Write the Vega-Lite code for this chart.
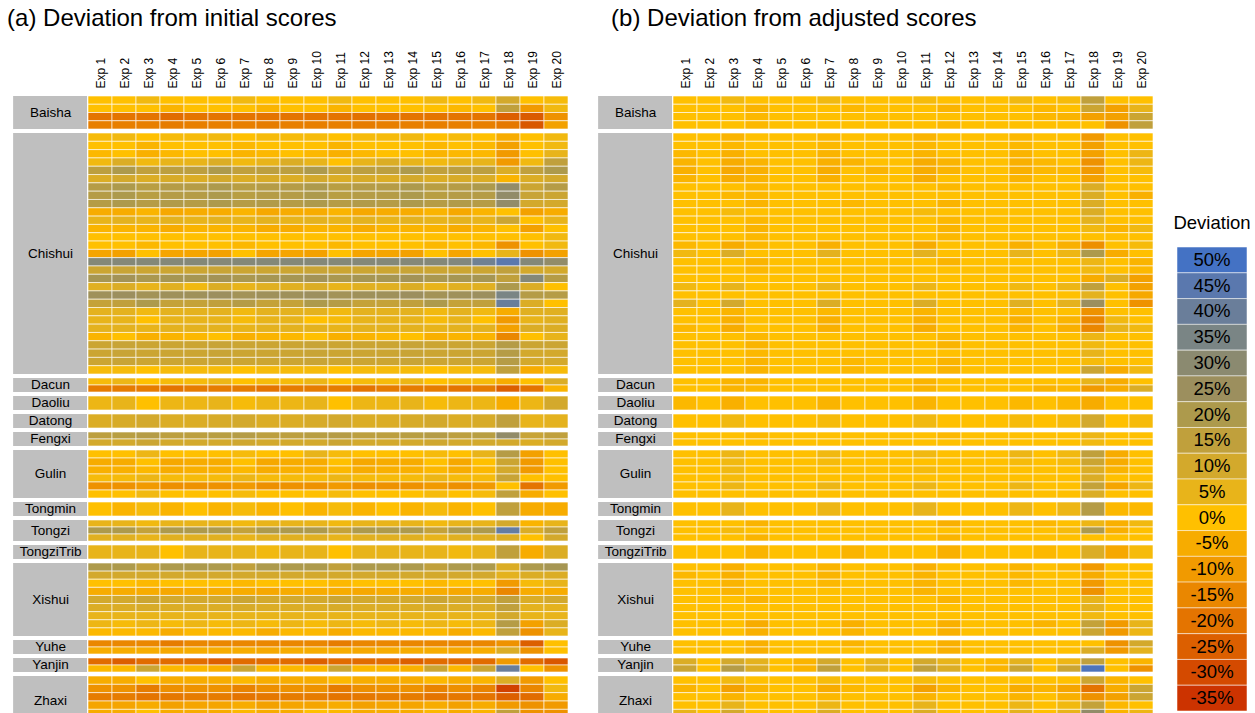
{
"$schema":"https://vega.github.io/schema/vega-lite/v6.json",
"background":"#FFFFFF",
"padding":{"left":7,"top":6,"right":0,"bottom":0},
"config":{"view":{"stroke":null},"font":"Liberation Sans","title":{"fontWeight":"normal","color":"#000000"}},
"data":{"values":[
{"p":"a","g":"Baisha","r":1,"v":[0,0,3,0,0,0,3,0,0,0,3,0,0,0,3,0,3,10,0,2]},
{"p":"a","g":"Baisha","r":2,"v":[0,0,0,-3,0,0,0,-3,0,0,-3,0,0,0,0,-2,0,15,-10,3]},
{"p":"a","g":"Baisha","r":3,"v":[-20,-20,-20,-22,-20,-20,-20,-20,-20,-20,-20,-21,-20,-20,-20,-20,-20,-25,-26,-12]},
{"p":"a","g":"Baisha","r":4,"v":[-17,-17,-17,-18,-17,-17,-17,-18,-17,-17,-17,-18,-17,-17,-17,-17,-17,-19,-27,-8]},
{"p":"a","g":"Chishui","r":1,"v":[2,3,0,2,2,3,0,2,2,2,0,2,2,3,0,2,0,-5,0,3]},
{"p":"a","g":"Chishui","r":2,"v":[0,0,-3,0,0,0,-2,0,0,0,-3,0,0,0,-2,0,-2,-8,0,3]},
{"p":"a","g":"Chishui","r":3,"v":[-2,0,-4,-2,0,0,-3,-2,0,-2,-4,-2,0,0,-3,-2,-2,-10,0,5]},
{"p":"a","g":"Chishui","r":4,"v":[3,8,3,5,5,8,3,5,8,5,0,5,8,5,3,5,5,-10,3,15]},
{"p":"a","g":"Chishui","r":5,"v":[16,20,15,16,16,20,15,16,16,20,14,16,16,20,15,16,16,8,15,20]},
{"p":"a","g":"Chishui","r":6,"v":[8,10,8,9,8,10,8,9,8,10,8,9,8,10,8,9,8,-3,8,10]},
{"p":"a","g":"Chishui","r":7,"v":[18,20,17,18,18,20,17,18,18,20,17,18,18,20,17,18,20,28,12,18]},
{"p":"a","g":"Chishui","r":8,"v":[18,20,17,18,18,20,17,18,18,20,17,18,18,20,17,18,18,28,13,12]},
{"p":"a","g":"Chishui","r":9,"v":[18,20,18,19,18,20,18,19,18,20,18,19,18,20,18,19,18,28,10,10]},
{"p":"a","g":"Chishui","r":10,"v":[-5,-5,-3,-6,-5,-5,-3,-6,-5,-5,-3,-6,-5,-5,-3,-6,-3,0,-8,-5]},
{"p":"a","g":"Chishui","r":11,"v":[5,6,5,6,5,6,5,6,5,6,5,6,5,6,5,6,5,12,0,5]},
{"p":"a","g":"Chishui","r":12,"v":[-3,-3,-3,-5,-3,-3,-3,-5,-5,-3,-3,-5,-3,-3,-3,-5,-3,0,-8,0]},
{"p":"a","g":"Chishui","r":13,"v":[0,0,0,0,0,0,0,0,0,0,0,0,0,0,0,0,0,0,0,3]},
{"p":"a","g":"Chishui","r":14,"v":[0,0,-2,0,0,0,-2,0,0,0,-2,0,0,0,-2,0,-2,-12,0,3]},
{"p":"a","g":"Chishui","r":15,"v":[-7,-8,0,-7,-7,-8,0,-7,-7,-8,0,-7,-7,-8,0,-7,0,5,-12,-8]},
{"p":"a","g":"Chishui","r":16,"v":[32,32,32,32,32,32,32,32,32,32,32,32,32,32,32,33,38,45,32,28]},
{"p":"a","g":"Chishui","r":17,"v":[12,13,12,12,12,13,12,12,12,13,12,12,12,13,12,12,12,15,10,10]},
{"p":"a","g":"Chishui","r":18,"v":[22,23,21,22,22,23,21,22,22,23,21,22,22,23,21,22,22,15,32,18]},
{"p":"a","g":"Chishui","r":19,"v":[7,8,5,7,3,8,5,7,7,8,5,7,7,8,5,7,7,20,8,0]},
{"p":"a","g":"Chishui","r":20,"v":[24,25,23,24,24,25,23,24,24,25,23,24,24,25,23,24,25,35,18,18]},
{"p":"a","g":"Chishui","r":21,"v":[14,15,20,14,14,15,18,14,14,20,18,14,14,15,20,14,15,40,8,0]},
{"p":"a","g":"Chishui","r":22,"v":[6,6,3,6,6,6,3,6,6,6,3,6,6,6,3,6,3,-5,7,7]},
{"p":"a","g":"Chishui","r":23,"v":[5,5,0,5,5,5,2,5,5,0,2,5,5,5,2,5,0,-10,5,7]},
{"p":"a","g":"Chishui","r":24,"v":[6,6,5,6,6,6,5,6,6,6,5,6,6,6,5,6,6,-8,8,8]},
{"p":"a","g":"Chishui","r":25,"v":[-3,0,-4,-3,-2,0,-4,-3,-2,0,-4,-3,-2,0,-4,-3,-3,-15,0,5]},
{"p":"a","g":"Chishui","r":26,"v":[12,13,12,12,12,13,12,12,12,13,12,12,12,13,12,12,12,18,12,12]},
{"p":"a","g":"Chishui","r":27,"v":[12,13,12,12,12,13,12,12,12,13,12,12,12,13,12,12,12,18,10,10]},
{"p":"a","g":"Chishui","r":28,"v":[12,13,12,12,12,13,12,12,12,13,12,12,12,13,12,12,12,18,10,10]},
{"p":"a","g":"Chishui","r":29,"v":[2,2,0,2,2,2,0,2,2,2,0,2,2,2,0,2,2,15,-5,2]},
{"p":"a","g":"Dacun","r":1,"v":[2,4,0,2,2,4,0,2,2,4,0,2,2,4,0,2,2,-5,0,8]},
{"p":"a","g":"Dacun","r":2,"v":[-18,-18,-18,-20,-18,-18,-18,-20,-18,-18,-18,-20,-18,-18,-18,-20,-18,-25,-20,-3]},
{"p":"a","g":"Daoliu","r":1,"v":[4,5,0,4,4,5,2,4,4,5,0,4,4,5,2,4,4,-5,4,10]},
{"p":"a","g":"Datong","r":1,"v":[8,9,10,8,8,9,10,8,8,9,10,8,8,9,10,8,9,15,5,6]},
{"p":"a","g":"Fengxi","r":1,"v":[16,17,18,16,16,17,18,16,16,17,18,16,16,17,18,16,17,28,13,15]},
{"p":"a","g":"Fengxi","r":2,"v":[10,10,12,10,10,10,11,10,10,10,12,10,10,10,11,10,10,10,8,10]},
{"p":"a","g":"Gulin","r":1,"v":[0,0,4,0,0,0,2,0,0,5,2,0,0,0,2,0,5,18,-8,0]},
{"p":"a","g":"Gulin","r":2,"v":[-5,-5,0,-6,-5,-5,0,-6,-5,-5,0,-6,-5,-5,0,-6,0,12,-10,0]},
{"p":"a","g":"Gulin","r":3,"v":[-4,-4,-2,-5,-4,-4,-2,-5,-4,-4,-2,-5,-4,-4,-2,-5,-2,10,-10,0]},
{"p":"a","g":"Gulin","r":4,"v":[2,2,4,2,2,2,4,2,2,2,4,2,2,2,4,2,2,13,0,0]},
{"p":"a","g":"Gulin","r":5,"v":[-12,-12,-10,-13,-12,-12,-10,-13,-12,-12,-10,-13,-12,-12,-10,-13,-10,0,-20,-10]},
{"p":"a","g":"Gulin","r":6,"v":[0,0,3,0,0,0,2,0,0,0,2,0,0,0,2,0,2,15,-5,0]},
{"p":"a","g":"Tongmin","r":1,"v":[0,-3,2,-3,0,-3,2,-3,0,-3,2,-3,0,-3,2,-3,0,15,-5,-5]},
{"p":"a","g":"Tongzi","r":1,"v":[5,5,3,5,5,5,3,5,5,5,3,5,5,5,3,5,5,10,-3,5]},
{"p":"a","g":"Tongzi","r":2,"v":[20,20,14,20,20,20,14,20,20,20,14,20,20,20,14,20,20,42,8,15]},
{"p":"a","g":"Tongzi","r":3,"v":[7,7,5,7,7,7,5,7,7,7,5,7,7,7,5,7,7,8,0,10]},
{"p":"a","g":"TongziTrib","r":1,"v":[5,5,5,0,5,5,5,3,5,5,0,5,5,5,5,3,5,15,-5,8]},
{"p":"a","g":"Xishui","r":1,"v":[20,20,15,20,20,20,15,20,20,20,15,20,20,20,15,20,20,8,20,22]},
{"p":"a","g":"Xishui","r":2,"v":[10,10,10,10,10,10,10,10,10,10,10,10,10,10,10,10,10,6,8,8]},
{"p":"a","g":"Xishui","r":3,"v":[0,0,-2,0,0,0,-2,0,0,0,-2,0,0,0,-2,0,0,-10,2,5]},
{"p":"a","g":"Xishui","r":4,"v":[-5,-5,-5,-6,-5,-5,-5,-6,-5,-5,-5,-6,-5,-5,-5,-6,-5,-15,-5,-5]},
{"p":"a","g":"Xishui","r":5,"v":[10,10,12,10,10,10,12,10,10,10,12,10,10,10,12,10,10,15,8,10]},
{"p":"a","g":"Xishui","r":6,"v":[8,8,9,8,8,8,9,8,8,8,9,8,8,8,9,8,8,15,6,6]},
{"p":"a","g":"Xishui","r":7,"v":[5,5,5,5,5,5,5,5,5,5,5,5,5,5,5,5,5,10,5,5]},
{"p":"a","g":"Xishui","r":8,"v":[4,2,4,2,4,2,4,2,4,2,4,2,4,2,4,2,4,18,-8,8]},
{"p":"a","g":"Xishui","r":9,"v":[-2,-2,-2,-5,-2,-2,-2,-5,-2,-2,-5,-2,-2,-2,-2,-5,-2,15,-12,5]},
{"p":"a","g":"Yuhe","r":1,"v":[-15,-15,-15,-18,-15,-15,-15,-15,-15,-15,-18,-15,-15,-15,-15,-15,-15,-12,-25,0]},
{"p":"a","g":"Yuhe","r":2,"v":[-5,-5,-5,-6,-5,-5,-5,-6,-5,-5,-5,-6,-5,-5,-5,-6,-5,8,-12,0]},
{"p":"a","g":"Yanjin","r":1,"v":[-22,-25,-22,-22,-22,-25,-22,-22,-22,-25,-22,-22,-22,-25,-22,-22,-22,-10,-22,-27]},
{"p":"a","g":"Yanjin","r":2,"v":[-2,-2,12,-2,-2,-4,12,-2,-2,-2,12,-2,-2,-4,12,-2,12,40,0,-12]},
{"p":"a","g":"Zhaxi","r":1,"v":[-5,-5,0,-5,-5,-5,-2,-5,-5,-5,-2,-5,-5,-5,-2,-5,-3,8,-10,0]},
{"p":"a","g":"Zhaxi","r":2,"v":[-12,-12,-18,-13,-12,-12,-16,-13,-12,-12,-18,-13,-12,-12,-16,-13,-16,-32,-15,3]},
{"p":"a","g":"Zhaxi","r":3,"v":[-18,-18,-20,-19,-18,-18,-20,-19,-18,-18,-20,-19,-18,-18,-20,-19,-20,-25,-22,-5]},
{"p":"a","g":"Zhaxi","r":4,"v":[-7,-7,-5,-8,-7,-7,-5,-8,-7,-7,-5,-8,-7,-7,-5,-8,-5,-10,-12,-10]},
{"p":"a","g":"Zhaxi","r":5,"v":[-5,-5,0,-5,-5,-5,-2,-5,-5,0,-2,-5,-5,-5,-2,-5,-3,15,-12,-12]},
{"p":"a","g":"Zhaxi","r":6,"v":[-18,-18,-20,-19,-18,-18,-20,-19,-18,-18,-20,-19,-18,-18,-20,-19,-20,-28,-20,0]},
{"p":"b","g":"Baisha","r":1,"v":[0,0,3,0,0,0,3,0,0,0,2,0,0,0,3,0,2,15,0,0]},
{"p":"b","g":"Baisha","r":2,"v":[0,0,0,-3,0,0,0,-2,0,0,0,-3,0,0,0,-2,0,12,-8,5]},
{"p":"b","g":"Baisha","r":3,"v":[0,0,0,-2,0,0,0,0,0,0,0,0,0,0,0,-2,-3,-8,-8,12]},
{"p":"b","g":"Baisha","r":4,"v":[0,0,0,-2,0,0,0,0,0,0,0,-2,0,0,0,0,0,0,-12,15]},
{"p":"b","g":"Chishui","r":1,"v":[0,0,-3,0,0,0,-2,0,0,0,-3,0,0,0,-2,0,0,-10,0,0]},
{"p":"b","g":"Chishui","r":2,"v":[0,0,-2,0,0,0,-2,0,0,0,-2,0,0,0,-2,0,0,-8,0,0]},
{"p":"b","g":"Chishui","r":3,"v":[-2,0,-4,0,0,0,-3,0,0,0,-3,0,0,0,-3,0,0,-8,0,4]},
{"p":"b","g":"Chishui","r":4,"v":[-3,0,-5,-3,0,0,-4,-3,0,0,-5,-3,0,0,-4,-2,0,-12,0,4]},
{"p":"b","g":"Chishui","r":5,"v":[-4,0,-6,-4,0,0,-5,0,-3,0,-5,-3,0,0,-4,-2,-2,-10,0,2]},
{"p":"b","g":"Chishui","r":6,"v":[-3,0,-5,-3,0,0,-4,0,0,0,-5,0,0,0,-3,0,0,-8,0,0]},
{"p":"b","g":"Chishui","r":7,"v":[0,0,0,-2,0,0,0,0,0,0,0,-2,0,0,0,0,0,8,0,0]},
{"p":"b","g":"Chishui","r":8,"v":[0,0,-2,-2,0,0,0,0,0,0,0,0,0,0,0,0,0,8,0,-4]},
{"p":"b","g":"Chishui","r":9,"v":[0,0,0,-3,0,0,0,-2,0,0,0,-3,0,0,0,0,0,8,0,0]},
{"p":"b","g":"Chishui","r":10,"v":[0,0,2,0,0,0,0,0,0,0,2,0,0,0,0,0,0,8,0,0]},
{"p":"b","g":"Chishui","r":11,"v":[0,0,0,-2,0,0,0,0,0,0,0,-2,0,0,0,0,0,6,0,0]},
{"p":"b","g":"Chishui","r":12,"v":[0,0,0,-3,0,0,0,0,0,0,0,-3,0,0,0,0,0,3,-3,3]},
{"p":"b","g":"Chishui","r":13,"v":[0,0,0,-2,0,0,0,0,0,0,0,-2,0,0,0,0,0,0,0,0]},
{"p":"b","g":"Chishui","r":14,"v":[-2,0,-5,-2,0,0,-4,0,0,0,-5,0,0,0,-4,0,-4,-13,0,2]},
{"p":"b","g":"Chishui","r":15,"v":[3,0,8,0,0,0,6,0,0,0,6,0,0,0,5,0,4,20,-5,0]},
{"p":"b","g":"Chishui","r":16,"v":[0,0,0,-3,0,0,0,0,0,0,0,-3,0,0,0,0,0,4,0,-3]},
{"p":"b","g":"Chishui","r":17,"v":[0,0,0,-2,0,0,0,0,0,0,0,0,0,0,0,0,0,3,0,-2]},
{"p":"b","g":"Chishui","r":18,"v":[0,0,0,0,0,0,0,0,0,0,0,0,0,0,0,0,0,-5,8,-8]},
{"p":"b","g":"Chishui","r":19,"v":[3,0,5,0,0,0,4,0,0,0,4,0,0,0,3,0,4,15,0,-8]},
{"p":"b","g":"Chishui","r":20,"v":[0,0,0,0,0,0,0,0,0,0,0,0,0,0,0,0,0,6,0,-6]},
{"p":"b","g":"Chishui","r":21,"v":[6,0,10,0,0,0,8,0,0,0,8,0,0,0,7,0,6,25,0,-12]},
{"p":"b","g":"Chishui","r":22,"v":[0,0,-3,0,0,0,-2,0,0,0,-3,0,0,0,-2,0,0,-12,0,0]},
{"p":"b","g":"Chishui","r":23,"v":[0,0,-4,0,0,0,-4,0,0,0,-4,0,0,0,-4,0,-3,-15,3,0]},
{"p":"b","g":"Chishui","r":24,"v":[-2,0,-5,0,0,0,-4,0,0,0,-5,0,0,0,-3,0,-4,-15,5,3]},
{"p":"b","g":"Chishui","r":25,"v":[0,0,0,-2,0,0,0,0,0,0,0,-2,0,0,0,0,0,4,0,0]},
{"p":"b","g":"Chishui","r":26,"v":[0,0,0,-3,0,0,0,0,0,0,0,-3,0,0,0,0,0,3,0,0]},
{"p":"b","g":"Chishui","r":27,"v":[0,0,0,-2,0,0,0,0,0,0,0,0,0,0,0,0,0,5,0,0]},
{"p":"b","g":"Chishui","r":28,"v":[0,0,0,-3,0,0,0,-2,0,0,0,-3,0,0,0,0,0,2,0,0]},
{"p":"b","g":"Chishui","r":29,"v":[0,0,0,-3,0,0,0,-2,0,0,0,-3,0,0,0,0,0,12,-5,3]},
{"p":"b","g":"Dacun","r":1,"v":[0,0,-3,-3,0,0,0,0,0,0,-3,0,0,0,0,0,0,5,-5,0]},
{"p":"b","g":"Dacun","r":2,"v":[0,0,-3,-2,0,0,0,0,0,0,-3,0,0,0,0,-3,-2,-10,-5,8]},
{"p":"b","g":"Daoliu","r":1,"v":[-2,0,-4,0,0,0,-3,0,0,0,-3,0,0,0,-2,0,-2,-5,0,0]},
{"p":"b","g":"Datong","r":1,"v":[0,0,3,0,0,0,2,0,0,0,3,0,0,0,2,0,2,10,0,2]},
{"p":"b","g":"Fengxi","r":1,"v":[0,0,0,-2,0,0,0,0,0,0,0,-2,0,0,0,0,0,4,0,0]},
{"p":"b","g":"Fengxi","r":2,"v":[0,0,0,0,0,0,0,0,0,0,0,0,0,0,0,0,0,3,0,0]},
{"p":"b","g":"Gulin","r":1,"v":[0,0,4,0,0,0,3,0,0,0,3,0,0,0,4,0,3,15,-5,0]},
{"p":"b","g":"Gulin","r":2,"v":[0,0,3,0,0,0,2,0,0,0,0,0,0,0,2,0,2,12,-5,0]},
{"p":"b","g":"Gulin","r":3,"v":[0,0,3,0,0,0,0,0,0,0,2,0,0,0,0,0,0,8,-3,0]},
{"p":"b","g":"Gulin","r":4,"v":[0,0,2,0,0,0,0,0,0,0,0,0,0,0,0,0,0,8,0,0]},
{"p":"b","g":"Gulin","r":5,"v":[0,0,4,0,0,0,4,0,0,0,4,0,0,0,4,0,0,14,-7,4]},
{"p":"b","g":"Gulin","r":6,"v":[0,0,0,0,0,0,0,0,0,0,0,0,0,0,0,0,0,8,0,0]},
{"p":"b","g":"Tongmin","r":1,"v":[0,0,5,0,0,0,4,0,0,0,5,0,0,0,4,0,4,18,-2,-2]},
{"p":"b","g":"Tongzi","r":1,"v":[0,0,0,-3,0,0,0,0,0,0,0,-4,0,0,0,-2,0,4,-4,3]},
{"p":"b","g":"Tongzi","r":2,"v":[0,0,2,0,0,0,0,0,0,0,0,0,0,0,0,0,2,20,-4,0]},
{"p":"b","g":"Tongzi","r":3,"v":[0,0,0,-3,0,0,0,0,0,0,0,-3,0,0,0,0,0,0,0,0]},
{"p":"b","g":"TongziTrib","r":1,"v":[0,0,0,-3,0,0,0,-3,0,0,0,-4,0,0,0,-2,0,8,-6,2]},
{"p":"b","g":"Xishui","r":1,"v":[0,0,-4,0,0,0,-3,0,0,0,-4,0,0,0,-3,0,-2,-10,0,0]},
{"p":"b","g":"Xishui","r":2,"v":[-2,0,-4,0,0,0,-3,0,0,0,-3,0,0,0,-2,0,0,-5,0,0]},
{"p":"b","g":"Xishui","r":3,"v":[0,0,-3,0,0,0,-2,0,0,0,-3,0,0,0,-2,0,0,-10,0,0]},
{"p":"b","g":"Xishui","r":4,"v":[0,0,-3,0,0,0,0,0,0,0,-3,0,0,0,0,0,0,-12,0,0]},
{"p":"b","g":"Xishui","r":5,"v":[0,0,0,-3,0,0,0,0,0,0,0,-3,0,0,0,0,0,5,0,0]},
{"p":"b","g":"Xishui","r":6,"v":[0,0,0,0,0,0,0,0,0,0,0,0,0,0,0,0,0,6,0,0]},
{"p":"b","g":"Xishui","r":7,"v":[0,0,0,0,0,0,0,0,0,0,0,0,0,0,0,0,0,3,0,0]},
{"p":"b","g":"Xishui","r":8,"v":[0,0,0,-5,0,0,0,-4,0,0,0,-4,0,0,0,-3,0,14,-10,5]},
{"p":"b","g":"Xishui","r":9,"v":[0,0,0,-4,0,0,0,-3,0,0,0,-4,0,0,0,0,0,12,-10,4]},
{"p":"b","g":"Yuhe","r":1,"v":[0,0,0,-4,0,0,0,-3,0,0,0,-4,0,0,0,0,0,0,-12,10]},
{"p":"b","g":"Yuhe","r":2,"v":[0,0,0,-4,0,0,0,0,0,0,0,-4,0,0,0,0,0,8,-10,6]},
{"p":"b","g":"Yanjin","r":1,"v":[8,0,10,6,0,-3,10,0,5,0,10,5,0,-2,6,0,4,15,0,-3]},
{"p":"b","g":"Yanjin","r":2,"v":[12,0,18,8,0,-3,15,0,6,0,15,8,0,-3,12,0,12,48,0,-12]},
{"p":"b","g":"Zhaxi","r":1,"v":[0,0,3,0,0,0,2,0,0,0,2,0,0,0,0,0,0,12,-3,0]},
{"p":"b","g":"Zhaxi","r":2,"v":[-3,0,-8,-3,0,0,-5,-2,0,0,-8,-3,0,0,-5,-3,-7,-20,-5,12]},
{"p":"b","g":"Zhaxi","r":3,"v":[0,0,-3,0,0,0,-2,0,0,0,-3,0,0,0,-3,0,-4,-12,-8,12]},
{"p":"b","g":"Zhaxi","r":4,"v":[0,0,5,0,0,0,4,0,0,0,5,0,0,0,4,0,3,14,-2,0]},
{"p":"b","g":"Zhaxi","r":5,"v":[5,0,10,0,0,0,8,0,0,0,8,0,0,0,6,0,5,28,-3,4]},
{"p":"b","g":"Zhaxi","r":6,"v":[0,0,-4,0,0,0,-3,0,0,0,-4,0,0,0,-3,0,-3,-15,0,12]}
]},
"transform":[
{"flatten":["v"]},
{"window":[{"op":"row_number","as":"e"}],"groupby":["p","g","r"]},
{"calculate":"datum.e - 1","as":"e0"}
],
"spacing":29,
"hconcat":[
{"title":{"text":"(a) Deviation from initial scores","anchor":"start","fontSize":24,"fontWeight":"normal","color":"#000000","dx":-6,"offset":20},
"transform":[{"filter":"datum.p == 'a'"}],
"spacing":2,
"vconcat":[
{"width":480,"height":33,"layer":[
{"data":{"values":[{}]},"mark":{"type":"rect","fill":"#BFBFBF"},"encoding":{"x":{"datum":-3.12,"type":"quantitative","scale":{"domain":[0,20]},"axis":{"orient":"top","values":[0.5,1.5,2.5,3.5,4.5,5.5,6.5,7.5,8.5,9.5,10.5,11.5,12.5,13.5,14.5,15.5,16.5,17.5,18.5,19.5],"labelExpr":"'Exp ' + (datum.value + 0.5)","labelAngle":-90,"labelFontSize":12,"labelColor":"#000000","labelPadding":8,"domain":false,"ticks":false,"grid":false,"title":null,"labelOverlap":false,"labelFlush":false,"labelBound":false}},"x2":{"datum":-0.04}}},
{"transform":[{"filter":"datum.g == 'Baisha'"}],"mark":{"type":"rect","stroke":"#FFFFFF","strokeWidth":1,"strokeOpacity":0.6},"encoding":{"x":{"field":"e0","type":"quantitative","scale":{"domain":[0,20]},"axis":{"orient":"top","values":[0.5,1.5,2.5,3.5,4.5,5.5,6.5,7.5,8.5,9.5,10.5,11.5,12.5,13.5,14.5,15.5,16.5,17.5,18.5,19.5],"labelExpr":"'Exp ' + (datum.value + 0.5)","labelAngle":-90,"labelFontSize":12,"labelColor":"#000000","labelPadding":8,"domain":false,"ticks":false,"grid":false,"title":null,"labelOverlap":false,"labelFlush":false,"labelBound":false}},"x2":{"field":"e"},"y":{"field":"r","type":"ordinal","axis":null},"color":{"field":"v","type":"quantitative","legend":null,"scale":{"domain":[-35,-30,-25,-20,-15,-10,-5,0,5,10,15,20,25,30,35,40,45,50],"range":["#CC3300","#D44A00","#DC5F00","#E47400","#EA8700","#F19A00","#F7AC00","#FFC000","#E8B41A","#D3A92C","#C0A03C","#AD9A4C","#9C8F5E","#8B8A70","#7A8585","#6A7E9A","#5A78AE","#4472C4"],"interpolate":"rgb"}}}},
{"data":{"values":[{}]},"mark":{"type":"text","fontSize":13.5,"color":"#000000"},"encoding":{"x":{"datum":-1.56,"type":"quantitative","axis":{"orient":"top","values":[0.5,1.5,2.5,3.5,4.5,5.5,6.5,7.5,8.5,9.5,10.5,11.5,12.5,13.5,14.5,15.5,16.5,17.5,18.5,19.5],"labelExpr":"'Exp ' + (datum.value + 0.5)","labelAngle":-90,"labelFontSize":12,"labelColor":"#000000","labelPadding":8,"domain":false,"ticks":false,"grid":false,"title":null,"labelOverlap":false,"labelFlush":false,"labelBound":false}},"text":{"value":"Baisha"}}}
]},
{"width":480,"height":241,"layer":[
{"data":{"values":[{}]},"mark":{"type":"rect","fill":"#BFBFBF"},"encoding":{"x":{"datum":-3.12,"type":"quantitative","scale":{"domain":[0,20]},"axis":null},"x2":{"datum":-0.04}}},
{"transform":[{"filter":"datum.g == 'Chishui'"}],"mark":{"type":"rect","stroke":"#FFFFFF","strokeWidth":1,"strokeOpacity":0.6},"encoding":{"x":{"field":"e0","type":"quantitative","scale":{"domain":[0,20]},"axis":null},"x2":{"field":"e"},"y":{"field":"r","type":"ordinal","axis":null},"color":{"field":"v","type":"quantitative","legend":null}}},
{"data":{"values":[{}]},"mark":{"type":"text","fontSize":13.5,"color":"#000000"},"encoding":{"x":{"datum":-1.56,"type":"quantitative","axis":null},"text":{"value":"Chishui"}}}
]},
{"width":480,"height":14,"layer":[
{"data":{"values":[{}]},"mark":{"type":"rect","fill":"#BFBFBF"},"encoding":{"x":{"datum":-3.12,"type":"quantitative","scale":{"domain":[0,20]},"axis":null},"x2":{"datum":-0.04}}},
{"transform":[{"filter":"datum.g == 'Dacun'"}],"mark":{"type":"rect","stroke":"#FFFFFF","strokeWidth":1,"strokeOpacity":0.6},"encoding":{"x":{"field":"e0","type":"quantitative","scale":{"domain":[0,20]},"axis":null},"x2":{"field":"e"},"y":{"field":"r","type":"ordinal","axis":null},"color":{"field":"v","type":"quantitative","legend":null}}},
{"data":{"values":[{}]},"mark":{"type":"text","fontSize":13.5,"color":"#000000"},"encoding":{"x":{"datum":-1.56,"type":"quantitative","axis":null},"text":{"value":"Dacun"}}}
]},
{"width":480,"height":14,"layer":[
{"data":{"values":[{}]},"mark":{"type":"rect","fill":"#BFBFBF"},"encoding":{"x":{"datum":-3.12,"type":"quantitative","scale":{"domain":[0,20]},"axis":null},"x2":{"datum":-0.04}}},
{"transform":[{"filter":"datum.g == 'Daoliu'"}],"mark":{"type":"rect","stroke":"#FFFFFF","strokeWidth":1,"strokeOpacity":0.6},"encoding":{"x":{"field":"e0","type":"quantitative","scale":{"domain":[0,20]},"axis":null},"x2":{"field":"e"},"y":{"field":"r","type":"ordinal","axis":null},"color":{"field":"v","type":"quantitative","legend":null}}},
{"data":{"values":[{}]},"mark":{"type":"text","fontSize":13.5,"color":"#000000"},"encoding":{"x":{"datum":-1.56,"type":"quantitative","axis":null},"text":{"value":"Daoliu"}}}
]},
{"width":480,"height":14,"layer":[
{"data":{"values":[{}]},"mark":{"type":"rect","fill":"#BFBFBF"},"encoding":{"x":{"datum":-3.12,"type":"quantitative","scale":{"domain":[0,20]},"axis":null},"x2":{"datum":-0.04}}},
{"transform":[{"filter":"datum.g == 'Datong'"}],"mark":{"type":"rect","stroke":"#FFFFFF","strokeWidth":1,"strokeOpacity":0.6},"encoding":{"x":{"field":"e0","type":"quantitative","scale":{"domain":[0,20]},"axis":null},"x2":{"field":"e"},"y":{"field":"r","type":"ordinal","axis":null},"color":{"field":"v","type":"quantitative","legend":null}}},
{"data":{"values":[{}]},"mark":{"type":"text","fontSize":13.5,"color":"#000000"},"encoding":{"x":{"datum":-1.56,"type":"quantitative","axis":null},"text":{"value":"Datong"}}}
]},
{"width":480,"height":14,"layer":[
{"data":{"values":[{}]},"mark":{"type":"rect","fill":"#BFBFBF"},"encoding":{"x":{"datum":-3.12,"type":"quantitative","scale":{"domain":[0,20]},"axis":null},"x2":{"datum":-0.04}}},
{"transform":[{"filter":"datum.g == 'Fengxi'"}],"mark":{"type":"rect","stroke":"#FFFFFF","strokeWidth":1,"strokeOpacity":0.6},"encoding":{"x":{"field":"e0","type":"quantitative","scale":{"domain":[0,20]},"axis":null},"x2":{"field":"e"},"y":{"field":"r","type":"ordinal","axis":null},"color":{"field":"v","type":"quantitative","legend":null}}},
{"data":{"values":[{}]},"mark":{"type":"text","fontSize":13.5,"color":"#000000"},"encoding":{"x":{"datum":-1.56,"type":"quantitative","axis":null},"text":{"value":"Fengxi"}}}
]},
{"width":480,"height":48,"layer":[
{"data":{"values":[{}]},"mark":{"type":"rect","fill":"#BFBFBF"},"encoding":{"x":{"datum":-3.12,"type":"quantitative","scale":{"domain":[0,20]},"axis":null},"x2":{"datum":-0.04}}},
{"transform":[{"filter":"datum.g == 'Gulin'"}],"mark":{"type":"rect","stroke":"#FFFFFF","strokeWidth":1,"strokeOpacity":0.6},"encoding":{"x":{"field":"e0","type":"quantitative","scale":{"domain":[0,20]},"axis":null},"x2":{"field":"e"},"y":{"field":"r","type":"ordinal","axis":null},"color":{"field":"v","type":"quantitative","legend":null}}},
{"data":{"values":[{}]},"mark":{"type":"text","fontSize":13.5,"color":"#000000"},"encoding":{"x":{"datum":-1.56,"type":"quantitative","axis":null},"text":{"value":"Gulin"}}}
]},
{"width":480,"height":14,"layer":[
{"data":{"values":[{}]},"mark":{"type":"rect","fill":"#BFBFBF"},"encoding":{"x":{"datum":-3.12,"type":"quantitative","scale":{"domain":[0,20]},"axis":null},"x2":{"datum":-0.04}}},
{"transform":[{"filter":"datum.g == 'Tongmin'"}],"mark":{"type":"rect","stroke":"#FFFFFF","strokeWidth":1,"strokeOpacity":0.6},"encoding":{"x":{"field":"e0","type":"quantitative","scale":{"domain":[0,20]},"axis":null},"x2":{"field":"e"},"y":{"field":"r","type":"ordinal","axis":null},"color":{"field":"v","type":"quantitative","legend":null}}},
{"data":{"values":[{}]},"mark":{"type":"text","fontSize":13.5,"color":"#000000"},"encoding":{"x":{"datum":-1.56,"type":"quantitative","axis":null},"text":{"value":"Tongmin"}}}
]},
{"width":480,"height":21,"layer":[
{"data":{"values":[{}]},"mark":{"type":"rect","fill":"#BFBFBF"},"encoding":{"x":{"datum":-3.12,"type":"quantitative","scale":{"domain":[0,20]},"axis":null},"x2":{"datum":-0.04}}},
{"transform":[{"filter":"datum.g == 'Tongzi'"}],"mark":{"type":"rect","stroke":"#FFFFFF","strokeWidth":1,"strokeOpacity":0.6},"encoding":{"x":{"field":"e0","type":"quantitative","scale":{"domain":[0,20]},"axis":null},"x2":{"field":"e"},"y":{"field":"r","type":"ordinal","axis":null},"color":{"field":"v","type":"quantitative","legend":null}}},
{"data":{"values":[{}]},"mark":{"type":"text","fontSize":13.5,"color":"#000000"},"encoding":{"x":{"datum":-1.56,"type":"quantitative","axis":null},"text":{"value":"Tongzi"}}}
]},
{"width":480,"height":14,"layer":[
{"data":{"values":[{}]},"mark":{"type":"rect","fill":"#BFBFBF"},"encoding":{"x":{"datum":-3.12,"type":"quantitative","scale":{"domain":[0,20]},"axis":null},"x2":{"datum":-0.04}}},
{"transform":[{"filter":"datum.g == 'TongziTrib'"}],"mark":{"type":"rect","stroke":"#FFFFFF","strokeWidth":1,"strokeOpacity":0.6},"encoding":{"x":{"field":"e0","type":"quantitative","scale":{"domain":[0,20]},"axis":null},"x2":{"field":"e"},"y":{"field":"r","type":"ordinal","axis":null},"color":{"field":"v","type":"quantitative","legend":null}}},
{"data":{"values":[{}]},"mark":{"type":"text","fontSize":13.5,"color":"#000000"},"encoding":{"x":{"datum":-1.56,"type":"quantitative","axis":null},"text":{"value":"TongziTrib"}}}
]},
{"width":480,"height":73,"layer":[
{"data":{"values":[{}]},"mark":{"type":"rect","fill":"#BFBFBF"},"encoding":{"x":{"datum":-3.12,"type":"quantitative","scale":{"domain":[0,20]},"axis":null},"x2":{"datum":-0.04}}},
{"transform":[{"filter":"datum.g == 'Xishui'"}],"mark":{"type":"rect","stroke":"#FFFFFF","strokeWidth":1,"strokeOpacity":0.6},"encoding":{"x":{"field":"e0","type":"quantitative","scale":{"domain":[0,20]},"axis":null},"x2":{"field":"e"},"y":{"field":"r","type":"ordinal","axis":null},"color":{"field":"v","type":"quantitative","legend":null}}},
{"data":{"values":[{}]},"mark":{"type":"text","fontSize":13.5,"color":"#000000"},"encoding":{"x":{"datum":-1.56,"type":"quantitative","axis":null},"text":{"value":"Xishui"}}}
]},
{"width":480,"height":14,"layer":[
{"data":{"values":[{}]},"mark":{"type":"rect","fill":"#BFBFBF"},"encoding":{"x":{"datum":-3.12,"type":"quantitative","scale":{"domain":[0,20]},"axis":null},"x2":{"datum":-0.04}}},
{"transform":[{"filter":"datum.g == 'Yuhe'"}],"mark":{"type":"rect","stroke":"#FFFFFF","strokeWidth":1,"strokeOpacity":0.6},"encoding":{"x":{"field":"e0","type":"quantitative","scale":{"domain":[0,20]},"axis":null},"x2":{"field":"e"},"y":{"field":"r","type":"ordinal","axis":null},"color":{"field":"v","type":"quantitative","legend":null}}},
{"data":{"values":[{}]},"mark":{"type":"text","fontSize":13.5,"color":"#000000"},"encoding":{"x":{"datum":-1.56,"type":"quantitative","axis":null},"text":{"value":"Yuhe"}}}
]},
{"width":480,"height":14,"layer":[
{"data":{"values":[{}]},"mark":{"type":"rect","fill":"#BFBFBF"},"encoding":{"x":{"datum":-3.12,"type":"quantitative","scale":{"domain":[0,20]},"axis":null},"x2":{"datum":-0.04}}},
{"transform":[{"filter":"datum.g == 'Yanjin'"}],"mark":{"type":"rect","stroke":"#FFFFFF","strokeWidth":1,"strokeOpacity":0.6},"encoding":{"x":{"field":"e0","type":"quantitative","scale":{"domain":[0,20]},"axis":null},"x2":{"field":"e"},"y":{"field":"r","type":"ordinal","axis":null},"color":{"field":"v","type":"quantitative","legend":null}}},
{"data":{"values":[{}]},"mark":{"type":"text","fontSize":13.5,"color":"#000000"},"encoding":{"x":{"datum":-1.56,"type":"quantitative","axis":null},"text":{"value":"Yanjin"}}}
]},
{"width":480,"height":50,"layer":[
{"data":{"values":[{}]},"mark":{"type":"rect","fill":"#BFBFBF"},"encoding":{"x":{"datum":-3.12,"type":"quantitative","scale":{"domain":[0,20]},"axis":null},"x2":{"datum":-0.04}}},
{"transform":[{"filter":"datum.g == 'Zhaxi'"}],"mark":{"type":"rect","stroke":"#FFFFFF","strokeWidth":1,"strokeOpacity":0.6},"encoding":{"x":{"field":"e0","type":"quantitative","scale":{"domain":[0,20]},"axis":null},"x2":{"field":"e"},"y":{"field":"r","type":"ordinal","axis":null},"color":{"field":"v","type":"quantitative","legend":null}}},
{"data":{"values":[{}]},"mark":{"type":"text","fontSize":13.5,"color":"#000000"},"encoding":{"x":{"datum":-1.56,"type":"quantitative","axis":null},"text":{"value":"Zhaxi"}}}
]}
]},
{"spacing":19,"hconcat":[
{"title":{"text":"(b) Deviation from adjusted scores","anchor":"start","fontSize":24,"fontWeight":"normal","color":"#000000","dx":13,"offset":20},
"transform":[{"filter":"datum.p == 'b'"}],
"spacing":2,
"vconcat":[
{"width":480,"height":33,"layer":[
{"data":{"values":[{}]},"mark":{"type":"rect","fill":"#BFBFBF"},"encoding":{"x":{"datum":-3.12,"type":"quantitative","scale":{"domain":[0,20]},"axis":{"orient":"top","values":[0.5,1.5,2.5,3.5,4.5,5.5,6.5,7.5,8.5,9.5,10.5,11.5,12.5,13.5,14.5,15.5,16.5,17.5,18.5,19.5],"labelExpr":"'Exp ' + (datum.value + 0.5)","labelAngle":-90,"labelFontSize":12,"labelColor":"#000000","labelPadding":8,"domain":false,"ticks":false,"grid":false,"title":null,"labelOverlap":false,"labelFlush":false,"labelBound":false}},"x2":{"datum":-0.04}}},
{"transform":[{"filter":"datum.g == 'Baisha'"}],"mark":{"type":"rect","stroke":"#FFFFFF","strokeWidth":1,"strokeOpacity":0.6},"encoding":{"x":{"field":"e0","type":"quantitative","scale":{"domain":[0,20]},"axis":{"orient":"top","values":[0.5,1.5,2.5,3.5,4.5,5.5,6.5,7.5,8.5,9.5,10.5,11.5,12.5,13.5,14.5,15.5,16.5,17.5,18.5,19.5],"labelExpr":"'Exp ' + (datum.value + 0.5)","labelAngle":-90,"labelFontSize":12,"labelColor":"#000000","labelPadding":8,"domain":false,"ticks":false,"grid":false,"title":null,"labelOverlap":false,"labelFlush":false,"labelBound":false}},"x2":{"field":"e"},"y":{"field":"r","type":"ordinal","axis":null},"color":{"field":"v","type":"quantitative","legend":null}}},
{"data":{"values":[{}]},"mark":{"type":"text","fontSize":13.5,"color":"#000000"},"encoding":{"x":{"datum":-1.56,"type":"quantitative","axis":{"orient":"top","values":[0.5,1.5,2.5,3.5,4.5,5.5,6.5,7.5,8.5,9.5,10.5,11.5,12.5,13.5,14.5,15.5,16.5,17.5,18.5,19.5],"labelExpr":"'Exp ' + (datum.value + 0.5)","labelAngle":-90,"labelFontSize":12,"labelColor":"#000000","labelPadding":8,"domain":false,"ticks":false,"grid":false,"title":null,"labelOverlap":false,"labelFlush":false,"labelBound":false}},"text":{"value":"Baisha"}}}
]},
{"width":480,"height":241,"layer":[
{"data":{"values":[{}]},"mark":{"type":"rect","fill":"#BFBFBF"},"encoding":{"x":{"datum":-3.12,"type":"quantitative","scale":{"domain":[0,20]},"axis":null},"x2":{"datum":-0.04}}},
{"transform":[{"filter":"datum.g == 'Chishui'"}],"mark":{"type":"rect","stroke":"#FFFFFF","strokeWidth":1,"strokeOpacity":0.6},"encoding":{"x":{"field":"e0","type":"quantitative","scale":{"domain":[0,20]},"axis":null},"x2":{"field":"e"},"y":{"field":"r","type":"ordinal","axis":null},"color":{"field":"v","type":"quantitative","legend":null}}},
{"data":{"values":[{}]},"mark":{"type":"text","fontSize":13.5,"color":"#000000"},"encoding":{"x":{"datum":-1.56,"type":"quantitative","axis":null},"text":{"value":"Chishui"}}}
]},
{"width":480,"height":14,"layer":[
{"data":{"values":[{}]},"mark":{"type":"rect","fill":"#BFBFBF"},"encoding":{"x":{"datum":-3.12,"type":"quantitative","scale":{"domain":[0,20]},"axis":null},"x2":{"datum":-0.04}}},
{"transform":[{"filter":"datum.g == 'Dacun'"}],"mark":{"type":"rect","stroke":"#FFFFFF","strokeWidth":1,"strokeOpacity":0.6},"encoding":{"x":{"field":"e0","type":"quantitative","scale":{"domain":[0,20]},"axis":null},"x2":{"field":"e"},"y":{"field":"r","type":"ordinal","axis":null},"color":{"field":"v","type":"quantitative","legend":null}}},
{"data":{"values":[{}]},"mark":{"type":"text","fontSize":13.5,"color":"#000000"},"encoding":{"x":{"datum":-1.56,"type":"quantitative","axis":null},"text":{"value":"Dacun"}}}
]},
{"width":480,"height":14,"layer":[
{"data":{"values":[{}]},"mark":{"type":"rect","fill":"#BFBFBF"},"encoding":{"x":{"datum":-3.12,"type":"quantitative","scale":{"domain":[0,20]},"axis":null},"x2":{"datum":-0.04}}},
{"transform":[{"filter":"datum.g == 'Daoliu'"}],"mark":{"type":"rect","stroke":"#FFFFFF","strokeWidth":1,"strokeOpacity":0.6},"encoding":{"x":{"field":"e0","type":"quantitative","scale":{"domain":[0,20]},"axis":null},"x2":{"field":"e"},"y":{"field":"r","type":"ordinal","axis":null},"color":{"field":"v","type":"quantitative","legend":null}}},
{"data":{"values":[{}]},"mark":{"type":"text","fontSize":13.5,"color":"#000000"},"encoding":{"x":{"datum":-1.56,"type":"quantitative","axis":null},"text":{"value":"Daoliu"}}}
]},
{"width":480,"height":14,"layer":[
{"data":{"values":[{}]},"mark":{"type":"rect","fill":"#BFBFBF"},"encoding":{"x":{"datum":-3.12,"type":"quantitative","scale":{"domain":[0,20]},"axis":null},"x2":{"datum":-0.04}}},
{"transform":[{"filter":"datum.g == 'Datong'"}],"mark":{"type":"rect","stroke":"#FFFFFF","strokeWidth":1,"strokeOpacity":0.6},"encoding":{"x":{"field":"e0","type":"quantitative","scale":{"domain":[0,20]},"axis":null},"x2":{"field":"e"},"y":{"field":"r","type":"ordinal","axis":null},"color":{"field":"v","type":"quantitative","legend":null}}},
{"data":{"values":[{}]},"mark":{"type":"text","fontSize":13.5,"color":"#000000"},"encoding":{"x":{"datum":-1.56,"type":"quantitative","axis":null},"text":{"value":"Datong"}}}
]},
{"width":480,"height":14,"layer":[
{"data":{"values":[{}]},"mark":{"type":"rect","fill":"#BFBFBF"},"encoding":{"x":{"datum":-3.12,"type":"quantitative","scale":{"domain":[0,20]},"axis":null},"x2":{"datum":-0.04}}},
{"transform":[{"filter":"datum.g == 'Fengxi'"}],"mark":{"type":"rect","stroke":"#FFFFFF","strokeWidth":1,"strokeOpacity":0.6},"encoding":{"x":{"field":"e0","type":"quantitative","scale":{"domain":[0,20]},"axis":null},"x2":{"field":"e"},"y":{"field":"r","type":"ordinal","axis":null},"color":{"field":"v","type":"quantitative","legend":null}}},
{"data":{"values":[{}]},"mark":{"type":"text","fontSize":13.5,"color":"#000000"},"encoding":{"x":{"datum":-1.56,"type":"quantitative","axis":null},"text":{"value":"Fengxi"}}}
]},
{"width":480,"height":48,"layer":[
{"data":{"values":[{}]},"mark":{"type":"rect","fill":"#BFBFBF"},"encoding":{"x":{"datum":-3.12,"type":"quantitative","scale":{"domain":[0,20]},"axis":null},"x2":{"datum":-0.04}}},
{"transform":[{"filter":"datum.g == 'Gulin'"}],"mark":{"type":"rect","stroke":"#FFFFFF","strokeWidth":1,"strokeOpacity":0.6},"encoding":{"x":{"field":"e0","type":"quantitative","scale":{"domain":[0,20]},"axis":null},"x2":{"field":"e"},"y":{"field":"r","type":"ordinal","axis":null},"color":{"field":"v","type":"quantitative","legend":null}}},
{"data":{"values":[{}]},"mark":{"type":"text","fontSize":13.5,"color":"#000000"},"encoding":{"x":{"datum":-1.56,"type":"quantitative","axis":null},"text":{"value":"Gulin"}}}
]},
{"width":480,"height":14,"layer":[
{"data":{"values":[{}]},"mark":{"type":"rect","fill":"#BFBFBF"},"encoding":{"x":{"datum":-3.12,"type":"quantitative","scale":{"domain":[0,20]},"axis":null},"x2":{"datum":-0.04}}},
{"transform":[{"filter":"datum.g == 'Tongmin'"}],"mark":{"type":"rect","stroke":"#FFFFFF","strokeWidth":1,"strokeOpacity":0.6},"encoding":{"x":{"field":"e0","type":"quantitative","scale":{"domain":[0,20]},"axis":null},"x2":{"field":"e"},"y":{"field":"r","type":"ordinal","axis":null},"color":{"field":"v","type":"quantitative","legend":null}}},
{"data":{"values":[{}]},"mark":{"type":"text","fontSize":13.5,"color":"#000000"},"encoding":{"x":{"datum":-1.56,"type":"quantitative","axis":null},"text":{"value":"Tongmin"}}}
]},
{"width":480,"height":21,"layer":[
{"data":{"values":[{}]},"mark":{"type":"rect","fill":"#BFBFBF"},"encoding":{"x":{"datum":-3.12,"type":"quantitative","scale":{"domain":[0,20]},"axis":null},"x2":{"datum":-0.04}}},
{"transform":[{"filter":"datum.g == 'Tongzi'"}],"mark":{"type":"rect","stroke":"#FFFFFF","strokeWidth":1,"strokeOpacity":0.6},"encoding":{"x":{"field":"e0","type":"quantitative","scale":{"domain":[0,20]},"axis":null},"x2":{"field":"e"},"y":{"field":"r","type":"ordinal","axis":null},"color":{"field":"v","type":"quantitative","legend":null}}},
{"data":{"values":[{}]},"mark":{"type":"text","fontSize":13.5,"color":"#000000"},"encoding":{"x":{"datum":-1.56,"type":"quantitative","axis":null},"text":{"value":"Tongzi"}}}
]},
{"width":480,"height":14,"layer":[
{"data":{"values":[{}]},"mark":{"type":"rect","fill":"#BFBFBF"},"encoding":{"x":{"datum":-3.12,"type":"quantitative","scale":{"domain":[0,20]},"axis":null},"x2":{"datum":-0.04}}},
{"transform":[{"filter":"datum.g == 'TongziTrib'"}],"mark":{"type":"rect","stroke":"#FFFFFF","strokeWidth":1,"strokeOpacity":0.6},"encoding":{"x":{"field":"e0","type":"quantitative","scale":{"domain":[0,20]},"axis":null},"x2":{"field":"e"},"y":{"field":"r","type":"ordinal","axis":null},"color":{"field":"v","type":"quantitative","legend":null}}},
{"data":{"values":[{}]},"mark":{"type":"text","fontSize":13.5,"color":"#000000"},"encoding":{"x":{"datum":-1.56,"type":"quantitative","axis":null},"text":{"value":"TongziTrib"}}}
]},
{"width":480,"height":73,"layer":[
{"data":{"values":[{}]},"mark":{"type":"rect","fill":"#BFBFBF"},"encoding":{"x":{"datum":-3.12,"type":"quantitative","scale":{"domain":[0,20]},"axis":null},"x2":{"datum":-0.04}}},
{"transform":[{"filter":"datum.g == 'Xishui'"}],"mark":{"type":"rect","stroke":"#FFFFFF","strokeWidth":1,"strokeOpacity":0.6},"encoding":{"x":{"field":"e0","type":"quantitative","scale":{"domain":[0,20]},"axis":null},"x2":{"field":"e"},"y":{"field":"r","type":"ordinal","axis":null},"color":{"field":"v","type":"quantitative","legend":null}}},
{"data":{"values":[{}]},"mark":{"type":"text","fontSize":13.5,"color":"#000000"},"encoding":{"x":{"datum":-1.56,"type":"quantitative","axis":null},"text":{"value":"Xishui"}}}
]},
{"width":480,"height":14,"layer":[
{"data":{"values":[{}]},"mark":{"type":"rect","fill":"#BFBFBF"},"encoding":{"x":{"datum":-3.12,"type":"quantitative","scale":{"domain":[0,20]},"axis":null},"x2":{"datum":-0.04}}},
{"transform":[{"filter":"datum.g == 'Yuhe'"}],"mark":{"type":"rect","stroke":"#FFFFFF","strokeWidth":1,"strokeOpacity":0.6},"encoding":{"x":{"field":"e0","type":"quantitative","scale":{"domain":[0,20]},"axis":null},"x2":{"field":"e"},"y":{"field":"r","type":"ordinal","axis":null},"color":{"field":"v","type":"quantitative","legend":null}}},
{"data":{"values":[{}]},"mark":{"type":"text","fontSize":13.5,"color":"#000000"},"encoding":{"x":{"datum":-1.56,"type":"quantitative","axis":null},"text":{"value":"Yuhe"}}}
]},
{"width":480,"height":14,"layer":[
{"data":{"values":[{}]},"mark":{"type":"rect","fill":"#BFBFBF"},"encoding":{"x":{"datum":-3.12,"type":"quantitative","scale":{"domain":[0,20]},"axis":null},"x2":{"datum":-0.04}}},
{"transform":[{"filter":"datum.g == 'Yanjin'"}],"mark":{"type":"rect","stroke":"#FFFFFF","strokeWidth":1,"strokeOpacity":0.6},"encoding":{"x":{"field":"e0","type":"quantitative","scale":{"domain":[0,20]},"axis":null},"x2":{"field":"e"},"y":{"field":"r","type":"ordinal","axis":null},"color":{"field":"v","type":"quantitative","legend":null}}},
{"data":{"values":[{}]},"mark":{"type":"text","fontSize":13.5,"color":"#000000"},"encoding":{"x":{"datum":-1.56,"type":"quantitative","axis":null},"text":{"value":"Yanjin"}}}
]},
{"width":480,"height":50,"layer":[
{"data":{"values":[{}]},"mark":{"type":"rect","fill":"#BFBFBF"},"encoding":{"x":{"datum":-3.12,"type":"quantitative","scale":{"domain":[0,20]},"axis":null},"x2":{"datum":-0.04}}},
{"transform":[{"filter":"datum.g == 'Zhaxi'"}],"mark":{"type":"rect","stroke":"#FFFFFF","strokeWidth":1,"strokeOpacity":0.6},"encoding":{"x":{"field":"e0","type":"quantitative","scale":{"domain":[0,20]},"axis":null},"x2":{"field":"e"},"y":{"field":"r","type":"ordinal","axis":null},"color":{"field":"v","type":"quantitative","legend":null}}},
{"data":{"values":[{}]},"mark":{"type":"text","fontSize":13.5,"color":"#000000"},"encoding":{"x":{"datum":-1.56,"type":"quantitative","axis":null},"text":{"value":"Zhaxi"}}}
]}
]},
{"width":70,"height":615,
"data":{"values":[{"v":50,"l":"50%"},{"v":45,"l":"45%"},{"v":40,"l":"40%"},{"v":35,"l":"35%"},{"v":30,"l":"30%"},{"v":25,"l":"25%"},{"v":20,"l":"20%"},{"v":15,"l":"15%"},{"v":10,"l":"10%"},{"v":5,"l":"5%"},{"v":0,"l":"0%"},{"v":-5,"l":"-5%"},{"v":-10,"l":"-10%"},{"v":-15,"l":"-15%"},{"v":-20,"l":"-20%"},{"v":-25,"l":"-25%"},{"v":-30,"l":"-30%"},{"v":-35,"l":"-35%"}]},
"layer":[
{"mark":{"type":"rect","stroke":"#FFFFFF","strokeWidth":1,"strokeOpacity":0.5},"encoding":{"y":{"field":"l","type":"nominal","sort":null,"axis":null,"scale":{"domain":[" 1"," 2"," 3"," 4"," 5","50%","45%","40%","35%","30%","25%","20%","15%","10%","5%","0%","-5%","-10%","-15%","-20%","-25%","-30%","-35%"],"paddingInner":0,"paddingOuter":0.43,"align":1}},"color":{"field":"v","type":"quantitative","legend":null,"scale":{"domain":[-35,-30,-25,-20,-15,-10,-5,0,5,10,15,20,25,30,35,40,45,50],"range":["#CC3300","#D44A00","#DC5F00","#E47400","#EA8700","#F19A00","#F7AC00","#FFC000","#E8B41A","#D3A92C","#C0A03C","#AD9A4C","#9C8F5E","#8B8A70","#7A8585","#6A7E9A","#5A78AE","#4472C4"],"interpolate":"rgb"}}}},
{"mark":{"type":"text","fontSize":18.5,"color":"#000000"},"encoding":{"y":{"field":"l","type":"nominal","sort":null,"axis":null},"text":{"field":"l"}}},
{"data":{"values":[{}]},"mark":{"type":"text","fontSize":18.5,"color":"#000000","dy":-37},"encoding":{"y":{"datum":"50%","type":"nominal","axis":null},"text":{"value":"Deviation"}}}
]}
]}
]
}
